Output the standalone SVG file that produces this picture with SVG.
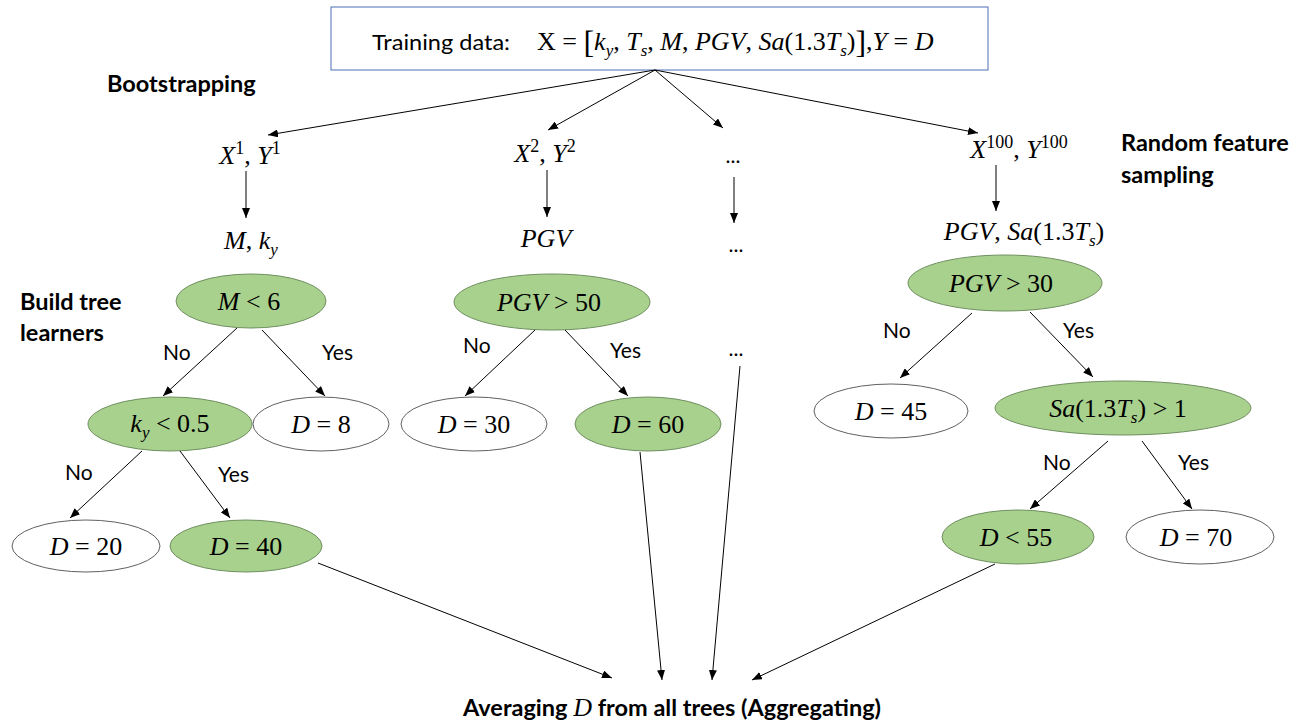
<svg xmlns="http://www.w3.org/2000/svg" width="1299" height="724" viewBox="0 0 1299 724">
<style>
.lbl{font-family:Lato,"Liberation Sans",sans-serif;font-size:21px;fill:#000}
.b{font-weight:bold;font-size:23.5px}
.m{font-family:"Liberation Serif","DejaVu Serif",serif;font-size:26px;fill:#000}
.i{font-style:italic}
.g{fill:#a9d18e;stroke:#6f8f5f;stroke-width:1}
.w{fill:#fff;stroke:#606060;stroke-width:1}
.c line{stroke:#000;stroke-width:1;marker-end:url(#ah)}
</style>
<defs>
<marker id="ah" markerWidth="10" markerHeight="8" refX="10" refY="4" orient="auto" markerUnits="userSpaceOnUse">
<path d="M0,0 L10,4 L0,8 z" fill="#000"/>
</marker>
</defs>
<rect width="1299" height="724" fill="#fff"/>

<g id="training">
<rect x="331" y="7" width="657" height="63" fill="#fff" stroke="#4a6fb5" stroke-width="1"/>
<text x="372" y="50" class="lbl" font-size="25px" textLength="138" lengthAdjust="spacingAndGlyphs">Training data:</text>
<text x="537" y="50" class="m" font-size="25px">X = <tspan font-size="32" dy="3">[</tspan><tspan class="i" dy="-3">k</tspan><tspan class="i" font-size="17" dy="6">y</tspan><tspan dy="-6">, </tspan><tspan class="i">T</tspan><tspan class="i" font-size="17" dy="6">s</tspan><tspan dy="-6">, </tspan><tspan class="i">M</tspan>, <tspan class="i">PGV</tspan>, <tspan class="i">Sa</tspan>(1.3<tspan class="i">T</tspan><tspan class="i" font-size="17" dy="6">s</tspan><tspan dy="-6">)</tspan><tspan font-size="32" dy="3">]</tspan><tspan dy="-3">,</tspan><tspan class="i">Y</tspan> = <tspan class="i">D</tspan></text>
</g>

<g id="labels">
<text x="107" y="92" class="lbl b">Bootstrapping</text>
<text x="1121" y="151" class="lbl b">Random feature</text>
<text x="1121" y="183" class="lbl b">sampling</text>
<text x="20" y="310" class="lbl b">Build tree</text>
<text x="20" y="341" class="lbl b">learners</text>
<text x="463" y="716" class="lbl b">Averaging <tspan class="m i" font-weight="normal" font-size="25px">D</tspan> from all trees (Aggregating)</text>
</g>

<g id="samples">
<text x="250" y="164" class="m" text-anchor="middle"><tspan class="i">X</tspan><tspan font-size="18" dy="-10">1</tspan><tspan dy="10">, </tspan><tspan class="i">Y</tspan><tspan font-size="18" dy="-10">1</tspan></text>
<text x="545" y="162" class="m" text-anchor="middle"><tspan class="i">X</tspan><tspan font-size="18" dy="-10">2</tspan><tspan dy="10">, </tspan><tspan class="i">Y</tspan><tspan font-size="18" dy="-10">2</tspan></text>
<text x="733" y="163" class="lbl" text-anchor="middle">...</text>
<text x="1019" y="158" class="m" text-anchor="middle"><tspan class="i">X</tspan><tspan font-size="18" dy="-10">100</tspan><tspan dy="10">, </tspan><tspan class="i">Y</tspan><tspan font-size="18" dy="-10">100</tspan></text>
</g>

<g id="features">
<text x="251" y="249" class="m" text-anchor="middle"><tspan class="i">M</tspan>, <tspan class="i">k</tspan><tspan class="i" font-size="17" dy="6">y</tspan></text>
<text x="546" y="247" class="m i" text-anchor="middle">PGV</text>
<text x="736" y="252" class="lbl" text-anchor="middle">...</text>
<text x="1024" y="240" class="m" text-anchor="middle"><tspan class="i">PGV</tspan>, <tspan class="i">Sa</tspan>(1.3<tspan class="i">T</tspan><tspan class="i" font-size="17" dy="6">s</tspan><tspan dy="-6">)</tspan></text>
<text x="736" y="356" class="lbl" text-anchor="middle">...</text>
</g>

<g id="tree1">
<g id="n-m6"><ellipse cx="251" cy="301" rx="75" ry="27" class="g"/><text x="249" y="310" class="m" text-anchor="middle"><tspan class="i">M</tspan> &lt; 6</text></g>
<g id="n-ky"><ellipse cx="170" cy="424" rx="82" ry="27" class="g"/><text x="170" y="432" class="m" text-anchor="middle"><tspan class="i">k</tspan><tspan class="i" font-size="17" dy="6">y</tspan><tspan dy="-6"> &lt; 0.5</tspan></text></g>
<g id="n-d8"><ellipse cx="321" cy="424" rx="68" ry="27" class="w"/><text x="321" y="433" class="m" text-anchor="middle"><tspan class="i">D</tspan> = 8</text></g>
<g id="n-d20"><ellipse cx="86" cy="546" rx="74" ry="26" class="w"/><text x="86" y="555" class="m" text-anchor="middle"><tspan class="i">D</tspan> = 20</text></g>
<g id="n-d40"><ellipse cx="246" cy="546" rx="76" ry="26" class="g"/><text x="246" y="555" class="m" text-anchor="middle"><tspan class="i">D</tspan> = 40</text></g>
</g>

<g id="tree2">
<g id="n-pgv50"><ellipse cx="552" cy="302" rx="98" ry="28" class="g"/><text x="549" y="311" class="m" text-anchor="middle"><tspan class="i">PGV</tspan> &gt; 50</text></g>
<g id="n-d30"><ellipse cx="474" cy="424" rx="73" ry="27" class="w"/><text x="474" y="433" class="m" text-anchor="middle"><tspan class="i">D</tspan> = 30</text></g>
<g id="n-d60"><ellipse cx="648" cy="424" rx="73" ry="27" class="g"/><text x="648" y="433" class="m" text-anchor="middle"><tspan class="i">D</tspan> = 60</text></g>
</g>

<g id="tree3">
<g id="n-pgv30"><ellipse cx="1005" cy="283" rx="97" ry="28" class="g"/><text x="1001" y="292" class="m" text-anchor="middle"><tspan class="i">PGV</tspan> &gt; 30</text></g>
<g id="n-d45"><ellipse cx="891" cy="411" rx="77" ry="27" class="w"/><text x="891" y="420" class="m" text-anchor="middle"><tspan class="i">D</tspan> = 45</text></g>
<g id="n-sa"><ellipse cx="1123" cy="408" rx="128" ry="27" class="g"/><text x="1118" y="417" class="m" text-anchor="middle"><tspan class="i">Sa</tspan>(1.3<tspan class="i">T</tspan><tspan class="i" font-size="17" dy="6">s</tspan><tspan dy="-6">) &gt; 1</tspan></text></g>
<g id="n-d55"><ellipse cx="1018" cy="537" rx="76" ry="27" class="g"/><text x="1016" y="546" class="m" text-anchor="middle"><tspan class="i">D</tspan> &lt; 55</text></g>
<g id="n-d70"><ellipse cx="1200" cy="537" rx="74" ry="27" class="w"/><text x="1196" y="546" class="m" text-anchor="middle"><tspan class="i">D</tspan> = 70</text></g>
</g>

<g id="connectors" class="c">
<line x1="655" y1="70" x2="268" y2="135"/>
<line x1="655" y1="70" x2="548" y2="130"/>
<line x1="655" y1="70" x2="723" y2="128"/>
<line x1="655" y1="70" x2="978" y2="133"/>
<line x1="246" y1="171" x2="246" y2="218"/>
<line x1="547" y1="170" x2="547" y2="217"/>
<line x1="734" y1="177" x2="734" y2="223"/>
<line x1="996" y1="165" x2="996" y2="211"/>
<line x1="237" y1="328" x2="163" y2="396"/>
<line x1="262" y1="330" x2="325" y2="396"/>
<line x1="142" y1="451" x2="70" y2="518"/>
<line x1="180" y1="451" x2="230" y2="518"/>
<line x1="535" y1="330" x2="465" y2="396"/>
<line x1="565" y1="330" x2="628" y2="396"/>
<line x1="972" y1="313" x2="900" y2="378"/>
<line x1="1030" y1="312" x2="1093" y2="377"/>
<line x1="1108" y1="441" x2="1030" y2="509"/>
<line x1="1142" y1="441" x2="1192" y2="509"/>
<line x1="318" y1="563" x2="612" y2="678"/>
<line x1="640" y1="452" x2="662" y2="680"/>
<line x1="740" y1="366" x2="712" y2="680"/>
<line x1="995" y1="564" x2="752" y2="680"/>
</g>

<g id="edge-labels">
<text x="163" y="360" class="lbl">No</text>
<text x="322" y="360" class="lbl">Yes</text>
<text x="65" y="480" class="lbl">No</text>
<text x="218" y="482" class="lbl">Yes</text>
<text x="463" y="353" class="lbl">No</text>
<text x="610" y="358" class="lbl">Yes</text>
<text x="883" y="338" class="lbl">No</text>
<text x="1063" y="338" class="lbl">Yes</text>
<text x="1043" y="470" class="lbl">No</text>
<text x="1178" y="470" class="lbl">Yes</text>
</g>
</svg>
